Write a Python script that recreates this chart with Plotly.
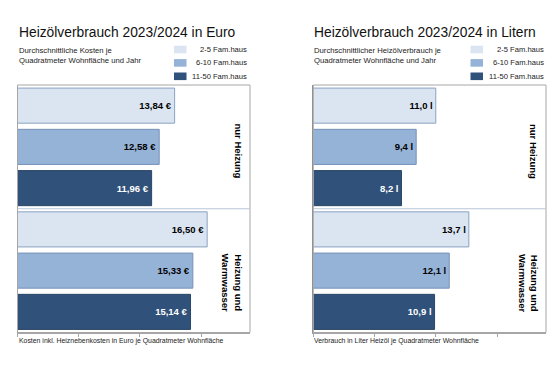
import plotly.graph_objects as go

# ---------------- data ----------------
groups = ["nur Heizung", "Heizung und<br>Warmwasser"]
households = ["2-5 Fam.haus", "6-10 Fam.haus", "11-50 Fam.haus"]
euro_nur_heizung = [13.84, 12.58, 11.96]
euro_heizung_warmwasser = [16.50, 15.33, 15.14]
liter_nur_heizung = [11.0, 9.4, 8.2]
liter_heizung_warmwasser = [13.7, 12.1, 10.9]
axis_ticks = [1, 6, 11, 16]
axis_range = [1, 20]

titles = ["Heizölverbrauch 2023/2024 in Euro", "Heizölverbrauch 2023/2024 in Litern"]
subtitles = [["Durchschnittliche Kosten je", "Quadratmeter Wohnfläche und Jahr"],
             ["Durchschnittlicher Heizölverbrauch je", "Quadratmeter Wohnfläche und Jahr"]]
footnotes = ["Kosten inkl. Heiznebenkosten in Euro je Quadratmeter Wohnfläche",
             "Verbrauch in Liter Heizöl je Quadratmeter Wohnfläche"]

# ---------------- style ----------------
W, H = 560, 373
FONT = "Liberation Sans, Arial, sans-serif"
fills = ["#DBE5F1", "#95B3D7", "#30517A"]
borders = ["#8AA3C3", "#7591B8", "#2A4668"]
text_colors = ["#000000", "#000000", "#FFFFFF"]


def px(x):
    return x / W


def py(y):
    return 1 - y / H


panels = [
    dict(xa="x", ya="y", left=17.5, right=250, top=85, bottom=332.5,
         vals=(euro_nur_heizung, euro_heizung_warmwasser),
         fmt=lambda v: f"{v:.2f}".replace(".", ",") + " €",
         title_x=16.5, leg_box=174, leg_text=248.5, grp_x=(238.5, 232.5)),
    dict(xa="x2", ya="y2", left=313.3, right=546, top=85, bottom=332.5,
         vals=(liter_nur_heizung, liter_heizung_warmwasser),
         fmt=lambda v: f"{v:.1f}".replace(".", ",") + " l",
         title_x=312, leg_box=470.5, leg_text=545.5, grp_x=(534, 529)),
]

fig = go.Figure()
annotations = []
shapes = []

for p_i, p in enumerate(panels):
    for h_i, hh in enumerate(households):
        xs = [p["vals"][0][h_i], p["vals"][1][h_i]]
        ys = [h_i, 3 + h_i]
        fig.add_trace(go.Bar(
            x=xs, y=ys, orientation="h", name=hh, width=0.85,
            xaxis=p["xa"], yaxis=p["ya"],
            marker=dict(color=fills[h_i], line=dict(color=borders[h_i], width=1)),
            text=[p["fmt"](v) for v in xs], textposition="inside",
            insidetextanchor="end", textangle=0,
            textfont=dict(family=FONT, size=9.5, color=text_colors[h_i], weight="bold"),
            showlegend=False, hoverinfo="x+name",
        ))

    # box around plot area
    shapes.append(dict(type="rect", xref=f"{p['xa']} domain", yref=f"{p['ya']} domain",
                       x0=0, x1=1, y0=0, y1=1, line=dict(color="#A6A6A6", width=1),
                       layer="above"))
    # divider between groups
    shapes.append(dict(type="line", xref=f"{p['xa']} domain", yref=p["ya"],
                       x0=0, x1=1, y0=2.5, y1=2.5, line=dict(color="#B8C6D8", width=1)))
    # legend swatches
    for h_i, hh in enumerate(households):
        yc = 49.5 + h_i * 13.4
        shapes.append(dict(type="rect", xref="paper", yref="paper",
                           x0=px(p["leg_box"]), x1=px(p["leg_box"] + 12.5),
                           y0=py(yc - 3.8), y1=py(yc + 3.8),
                           fillcolor=fills[h_i], line=dict(width=0)))
        annotations.append(dict(text=hh, xref="paper", yref="paper",
                                x=px(p["leg_text"]), y=py(yc), xanchor="right",
                                yanchor="middle", showarrow=False,
                                font=dict(family=FONT, size=7.6, color="#1a1a1a")))
    # title
    annotations.append(dict(text=titles[p_i], xref="paper", yref="paper",
                            x=px(p["title_x"]), y=py(32), xanchor="left", yanchor="middle",
                            showarrow=False, font=dict(family=FONT, size=13.8, color="#111111")))
    for l_i, line in enumerate(subtitles[p_i]):
        annotations.append(dict(text=line, xref="paper", yref="paper",
                                x=px(p["title_x"]), y=py(50.8 + 9.2 * l_i),
                                xanchor="left", yanchor="middle", showarrow=False,
                                font=dict(family=FONT, size=7.7, color="#222222")))
    annotations.append(dict(text=footnotes[p_i], xref="paper", yref="paper",
                            x=px(p["title_x"]), y=py(340.7), xanchor="left", yanchor="middle",
                            showarrow=False, font=dict(family=FONT, size=6.9, color="#222222")))
    # group labels
    for g_i, g in enumerate(groups):
        annotations.append(dict(text=g, xref="paper", yref=p["ya"],
                                x=px(p["grp_x"][g_i]), y=1.1 + g_i * 3.2,
                                xanchor="center", yanchor="middle", textangle=90,
                                showarrow=False,
                                font=dict(family=FONT, size=9.5, color="#000000", weight="bold")))

ydom = [py(332.5), py(85)]
axis_common = dict(range=axis_range, tickvals=axis_ticks, showticklabels=False,
                   ticks="outside", ticklen=3, tickcolor="#A6A6A6", showline=True,
                   linecolor="#A6A6A6", linewidth=1, showgrid=False, zeroline=False,
                   fixedrange=True)
yaxis_common = dict(range=[5.5, -0.5], showticklabels=False, ticks="", showgrid=False,
                    zeroline=False, showline=True, linecolor="#8C8C8C", linewidth=1.2,
                    domain=ydom, fixedrange=True)

fig.update_layout(
    width=W, height=H, margin=dict(l=0, r=0, t=0, b=0),
    paper_bgcolor="white", plot_bgcolor="white",
    barmode="overlay",
    xaxis=dict(domain=[px(17.5), px(250)], anchor="y", **axis_common),
    yaxis=dict(anchor="x", **yaxis_common),
    xaxis2=dict(domain=[px(313.3), px(546)], anchor="y2", **axis_common),
    yaxis2=dict(anchor="x2", **yaxis_common),
    annotations=annotations, shapes=shapes,
    font=dict(family=FONT),
)

fig.write_html("out.html", config={"displayModeBar": False},
               post_script="document.body.style.margin='0';document.body.style.overflow='hidden';")
